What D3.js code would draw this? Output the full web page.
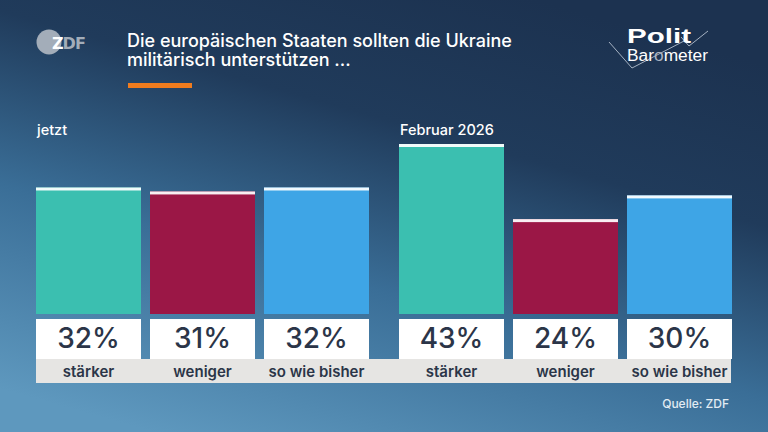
<!DOCTYPE html>
<html>
<head>
<meta charset="utf-8">
<script src="https://cdn.jsdelivr.net/npm/d3@7"></script>
<style>
  html, body { margin: 0; padding: 0; }
  svg { display: block; }
</style>
</head>
<body>
<svg id="chart" width="768" height="432"></svg>
<script>
const svg = d3.select("#chart");
const width = +svg.attr("width");
const height = +svg.attr("height");

// Data
const groups = ["jetzt", "Februar 2026"];
const categories = ["stärker", "weniger", "so wie bisher"];
const valuesNow = [32, 31, 32];
const valuesFeb = [43, 24, 30];
const seriesValues = [valuesNow, valuesFeb];

const colors = ["#3bbfb0", "#9b1746", "#3ea5e6"];
const textDark = "#2b3548";
const font = "Inter, Roboto, sans-serif";

// Background
const defs = svg.append("defs");
const bg = defs.append("linearGradient")
  .attr("id", "bg")
  .attr("x1", "0.7").attr("y1", "0")
  .attr("x2", "0.2").attr("y2", "1");
bg.append("stop").attr("offset", "0").attr("stop-color", "#1c3250");
bg.append("stop").attr("offset", "0.3").attr("stop-color", "#203b5b");
bg.append("stop").attr("offset", "0.62").attr("stop-color", "#3a6e97");
bg.append("stop").attr("offset", "1").attr("stop-color", "#5e98be");
svg.append("rect").attr("width", width).attr("height", height).attr("fill", "url(#bg)");

// Scales
const baseY = 314;
const xGroup = d3.scaleBand().domain(groups).range([36, 732]).paddingInner(30 / 363);
const xCat = d3.scaleBand().domain(categories).range([0, xGroup.bandwidth()]).paddingInner(9 / 114);
const yScale = d3.scaleLinear().domain([0, 43]).range([baseY, 144]);

// Label strip
svg.append("rect")
  .attr("x", xGroup.range()[0])
  .attr("y", 359)
  .attr("width", xGroup.range()[1] - xGroup.range()[0] - 1)
  .attr("height", 24)
  .attr("fill", "#e6e5e3");

const rows = [];
groups.forEach((g, gi) => {
  categories.forEach((c, ci) => {
    rows.push({ group: g, cat: c, value: seriesValues[gi][ci], color: colors[ci] });
  });
});

const xOf = (d) => xGroup(d.group) + xCat(d.cat);

const bar = svg.append("g").selectAll("g").data(rows).join("g");

bar.append("rect")
  .attr("x", xOf)
  .attr("y", (d) => yScale(d.value))
  .attr("width", xCat.bandwidth())
  .attr("height", (d) => baseY - yScale(d.value))
  .attr("fill", (d) => d.color);

// white cap on top
bar.append("rect")
  .attr("x", xOf)
  .attr("y", (d) => yScale(d.value))
  .attr("width", xCat.bandwidth())
  .attr("height", 3)
  .attr("fill", "#ffffff")
  .attr("opacity", 0.93);

// value box
bar.append("rect")
  .attr("x", xOf)
  .attr("y", 319)
  .attr("width", xCat.bandwidth())
  .attr("height", 40)
  .attr("fill", "#ffffff");

bar.append("text")
  .attr("x", (d) => xOf(d) + xCat.bandwidth() / 2)
  .attr("y", 348)
  .attr("text-anchor", "middle")
  .attr("font-family", font)
  .attr("font-weight", 500)
  .attr("font-size", 28)
  .attr("fill", textDark)
  .text((d) => d.value + "%");

bar.append("text")
  .attr("x", (d) => xOf(d) + xCat.bandwidth() / 2)
  .attr("y", 377)
  .attr("text-anchor", "middle")
  .attr("font-family", font)
  .attr("font-weight", 600)
  .attr("font-size", 15)
  .attr("fill", textDark)
  .text((d) => d.cat);

// Group titles
svg.append("g").selectAll("text").data(groups).join("text")
  .attr("x", (d) => xGroup(d) + 1)
  .attr("y", 135)
  .attr("font-family", font)
  .attr("font-weight", 500)
  .attr("font-size", 14.5)
  .attr("fill", "#ffffff")
  .text((d) => d);

// Title
const title = svg.append("text")
  .attr("font-family", font)
  .attr("font-weight", 500)
  .attr("font-size", 18)
  .attr("fill", "#ffffff");
title.append("tspan").attr("x", 127).attr("y", 47).text("Die europäischen Staaten sollten die Ukraine");
title.append("tspan").attr("x", 127).attr("y", 66).text("militärisch unterstützen ...");

svg.append("rect").attr("x", 128).attr("y", 83).attr("width", 64).attr("height", 5).attr("fill", "#f07c1e");

// ZDF logo
svg.append("circle").attr("cx", 49).attr("cy", 42).attr("r", 12.5).attr("fill", "#a3adb9");
const zdf = svg.append("text")
  .attr("x", 52).attr("y", 49)
  .attr("font-family", "DejaVu Sans, sans-serif")
  .attr("font-weight", "bold")
  .attr("font-size", 16)
  .attr("letter-spacing", -1);
zdf.append("tspan").attr("fill", "#ffffff").text("Z");
zdf.append("tspan").attr("fill", "#a3adb9").text("DF");

// Politbarometer logo
const check = d3.line();
svg.append("path")
  .attr("d", check([[609, 42], [632, 68], [684, 41]]))
  .attr("fill", "none").attr("stroke", "#c8d2de").attr("stroke-width", 0.8);
svg.append("path")
  .attr("d", check([[681, 37], [689, 46], [708, 31]]))
  .attr("fill", "none").attr("stroke", "#c8d2de").attr("stroke-width", 0.8);
svg.append("text")
  .attr("x", 627).attr("y", 43)
  .attr("font-family", "Liberation Sans, Arial, sans-serif")
  .attr("font-weight", "bold")
  .attr("font-size", 21)
  .attr("textLength", 64)
  .attr("lengthAdjust", "spacingAndGlyphs")
  .attr("fill", "#ffffff")
  .text("Polit");
const baro = svg.append("text")
  .attr("x", 627).attr("y", 61)
  .attr("font-family", "Liberation Sans, Arial, sans-serif")
  .attr("font-size", 16)
  .attr("textLength", 81)
  .attr("lengthAdjust", "spacingAndGlyphs")
  .attr("fill", "#ffffff");
baro.append("tspan").text("Bar");
baro.append("tspan").attr("fill", "#aab4c2").text("o");
baro.append("tspan").text("meter");

// Source
svg.append("text")
  .attr("x", 729).attr("y", 408)
  .attr("text-anchor", "end")
  .attr("font-family", font)
  .attr("font-weight", 500)
  .attr("font-size", 12)
  .attr("fill", "#e2ecf3")
  .text("Quelle: ZDF");
</script>
</body>
</html>
